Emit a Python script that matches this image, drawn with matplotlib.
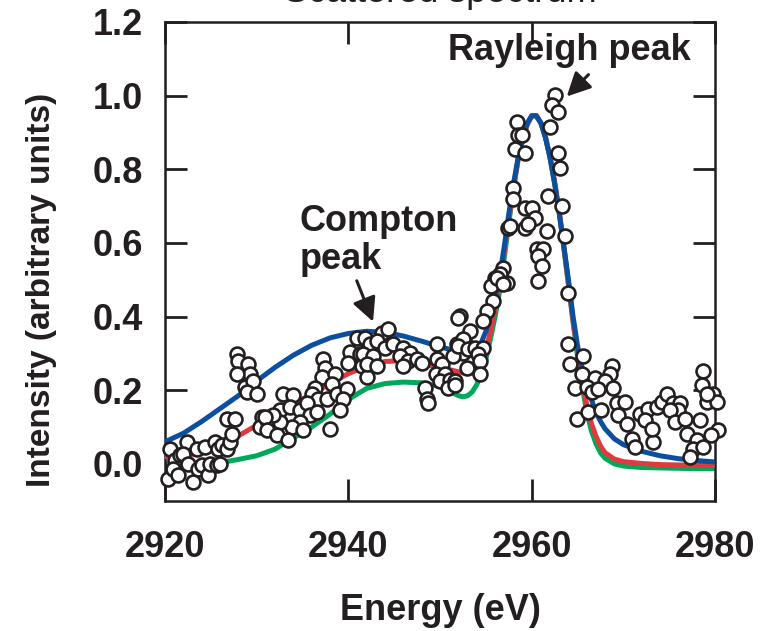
"""
Scattered spectrum: measured points with three model fits.
"""

import matplotlib
matplotlib.use("Agg")
import matplotlib.pyplot as plt

# ── fitted curves (shared energy grid) ──────────────────────────────────
energy_grid = [
    2920, 2922, 2924, 2926, 2928, 2930, 2932, 2934, 2936, 2938, 2940, 2942,
    2944, 2946, 2948, 2950, 2951, 2952, 2952.5, 2953, 2953.5, 2954, 2954.5,
    2955, 2955.5, 2956, 2956.5, 2957, 2957.5, 2958, 2958.5, 2959, 2959.5,
    2960, 2960.5, 2961, 2961.5, 2962, 2962.5, 2963, 2963.5, 2964, 2964.5,
    2965, 2965.5, 2966, 2966.5, 2967, 2967.5, 2968, 2969, 2970, 2972, 2974,
    2976, 2978, 2980,
]
blue_fit = [
    0.060, 0.083, 0.115, 0.150, 0.185, 0.225, 0.262, 0.295, 0.322, 0.342,
    0.354, 0.360, 0.357, 0.347, 0.333, 0.318, 0.311, 0.305, 0.302, 0.300,
    0.300, 0.310, 0.330, 0.360, 0.400, 0.450, 0.510, 0.590, 0.680, 0.760,
    0.830, 0.885, 0.925, 0.945, 0.945, 0.925, 0.885, 0.830, 0.760, 0.680,
    0.590, 0.500, 0.400, 0.320, 0.260, 0.215, 0.175, 0.140, 0.115, 0.095,
    0.068, 0.052, 0.034, 0.022, 0.014, 0.009, 0.005,
]
red_fit = [
    0.020, 0.022, 0.030, 0.048, 0.076, 0.105, 0.135, 0.162, 0.190, 0.218,
    0.245, 0.265, 0.278, 0.280, 0.272, 0.262, 0.256, 0.250, 0.247, 0.245,
    0.247, 0.255, 0.275, 0.310, 0.360, 0.420, 0.490, 0.575, 0.665, 0.750,
    0.825, 0.880, 0.922, 0.945, 0.945, 0.925, 0.887, 0.833, 0.765, 0.685,
    0.590, 0.490, 0.390, 0.300, 0.225, 0.160, 0.110, 0.075, 0.048, 0.030,
    0.013, 0.006, 0.001, -0.002, -0.003, -0.004, -0.004,
]
green_fit = [
    0.000, 0.000, 0.000, 0.003, 0.012, 0.022, 0.040, 0.070, 0.100, 0.135,
    0.175, 0.205, 0.218, 0.222, 0.220, 0.210, 0.198, 0.185, 0.182, 0.185,
    0.195, 0.215, 0.245, 0.285, 0.340, 0.400, 0.470, 0.560, 0.655, 0.745,
    0.825, 0.880, 0.920, 0.945, 0.945, 0.925, 0.885, 0.830, 0.760, 0.680,
    0.585, 0.485, 0.385, 0.290, 0.210, 0.140, 0.090, 0.055, 0.030, 0.015,
    0.000, -0.006, -0.010, -0.011, -0.012, -0.013, -0.013,
]

# ── measured points ─────────────────────────────────────────────────────
data_energy = [
    2920.5, 2920.3, 2921.1, 2921.6, 2922.4, 2922.0, 2920.9, 2921.4, 2922.5,
    2923.1, 2923.5, 2923.6, 2924.0, 2924.4, 2924.7, 2924.9, 2925.5, 2925.7,
    2926.0, 2925.8, 2926.2, 2926.8, 2927.1, 2927.3, 2926.8, 2927.6, 2927.9,
    2928.0, 2929.1, 2929.3, 2927.9, 2928.7, 2929.6, 2928.9, 2930.0, 2930.6,
    2930.4, 2931.1,
    2940.9, 2942.0, 2940.2, 2941.3, 2940.0, 2941.5, 2942.0, 2937.2, 2937.5,
    2937.1, 2938.5, 2938.2, 2936.4, 2936.0, 2936.7, 2937.7, 2938.8, 2939.9,
    2939.4, 2939.1, 2932.9, 2934.0, 2932.5, 2933.6, 2934.7, 2935.5, 2935.8,
    2934.7, 2933.9, 2932.5, 2931.8, 2930.9, 2931.1, 2932.2, 2933.4, 2935.1,
    2936.6, 2938.0,
    2952.2, 2943.7, 2944.3, 2941.8, 2942.4, 2943.1, 2941.6, 2942.7, 2944.0,
    2944.9, 2946.0, 2946.7, 2945.6, 2946.5, 2947.5, 2948.0, 2946.0, 2942.0,
    2943.1, 2949.7, 2949.7, 2950.2, 2949.5, 2950.5, 2950.0, 2951.1, 2950.9,
    2951.6, 2948.4, 2948.6, 2948.7, 2951.8, 2952.7, 2952.5, 2951.4,
    2957.4, 2959.3, 2952.0, 2956.9, 2956.5, 2957.3, 2956.0, 2955.5, 2955.8,
    2955.1, 2954.7, 2953.3, 2952.5, 2951.9, 2953.0, 2953.8, 2954.7, 2954.1,
    2954.4, 2954.4, 2952.9, 2951.6,
    2962.5, 2962.2, 2962.9, 2958.4, 2962.0, 2958.5, 2958.9, 2958.2, 2959.3,
    2962.9, 2963.1, 2958.0, 2957.9, 2961.8, 2963.3, 2959.3, 2960.0, 2960.4,
    2959.6, 2957.6, 2961.7, 2963.6, 2960.6, 2961.2, 2960.7, 2961.1, 2960.7,
    2956.2, 2956.9, 2963.9,
    2964.0, 2965.6, 2964.2, 2965.5, 2964.7, 2966.9, 2968.8, 2968.5, 2968.0,
    2966.0, 2966.6, 2967.2, 2968.9, 2964.9, 2966.1, 2967.5, 2969.3, 2970.2,
    2969.4, 2970.4, 2970.9, 2971.3, 2973.2, 2971.8, 2972.7, 2973.7, 2972.4,
    2973.1, 2974.2, 2974.8, 2975.4, 2976.2, 2976.0, 2975.1, 2975.6, 2976.7,
    2976.9, 2978.0, 2977.6, 2977.3, 2978.7, 2978.4, 2978.7, 2978.6, 2979.1,
    2979.8, 2980.2, 2980.3, 2979.5, 2979.1,
]
data_intensity = [
    0.041, -0.041, 0.011, 0.025, 0.060, 0.027, -0.014, -0.030, 0.000,
    -0.049, 0.041, -0.014, -0.003, 0.046, -0.030, 0.000, 0.060, -0.003,
    0.000, 0.041, 0.052, 0.041, 0.060, 0.082, 0.123, 0.123, 0.297,
    0.278, 0.270, 0.245, 0.245, 0.210, 0.224, 0.196, 0.191, 0.128,
    0.101, 0.120,
    0.341, 0.333, 0.305, 0.297, 0.273, 0.265, 0.237, 0.284, 0.259,
    0.237, 0.245, 0.218, 0.205, 0.191, 0.177, 0.177, 0.191, 0.202,
    0.175, 0.147, 0.191, 0.188, 0.147, 0.155, 0.147, 0.164, 0.134,
    0.115, 0.101, 0.115, 0.134, 0.128, 0.093, 0.079, 0.065, 0.093,
    0.142, 0.095,
    0.401, 0.355, 0.365, 0.341, 0.325, 0.333, 0.297, 0.292, 0.314,
    0.325, 0.314, 0.300, 0.292, 0.278, 0.286, 0.273, 0.265, 0.270,
    0.265, 0.325, 0.286, 0.270, 0.245, 0.245, 0.224, 0.229, 0.205,
    0.224, 0.205, 0.177, 0.164, 0.325, 0.327, 0.300, 0.292,
    0.641, 0.641, 0.395, 0.532, 0.515, 0.491, 0.504, 0.483, 0.442,
    0.415, 0.387, 0.360, 0.338, 0.319, 0.311, 0.314, 0.314, 0.297,
    0.278, 0.245, 0.259, 0.215,
    1.001, 0.974, 0.954, 0.927, 0.914, 0.892, 0.892, 0.856, 0.845,
    0.845, 0.802, 0.750, 0.720, 0.728, 0.701, 0.695, 0.695, 0.668,
    0.652, 0.646, 0.633, 0.619, 0.584, 0.584, 0.564, 0.537, 0.496,
    0.504, 0.488, 0.464,
    0.325, 0.292, 0.270, 0.245, 0.205, 0.232, 0.265, 0.245, 0.224,
    0.210, 0.196, 0.202, 0.205, 0.123, 0.142, 0.147, 0.164, 0.169,
    0.134, 0.109, 0.068, 0.046, 0.060, 0.136, 0.150, 0.155, 0.120,
    0.095, 0.169, 0.191, 0.164, 0.164, 0.147, 0.147, 0.115, 0.123,
    0.082, 0.065, 0.041, 0.019, 0.046, 0.120, 0.251, 0.215, 0.169,
    0.191, 0.169, 0.093, 0.079, 0.191,
]

x_ticks = [2920, 2940, 2960, 2980]
y_ticks = [0.0, 0.2, 0.4, 0.6, 0.8, 1.0, 1.2]

INK = "#231f20"
plt.rcParams["font.family"] = ["Liberation Sans", "DejaVu Sans"]
plt.rcParams["font.weight"] = "bold"

fig = plt.figure(figsize=(7.77, 6.31), dpi=100)
ax = fig.add_axes([0.2124, 0.2065, 0.708, 0.7589])

ax.plot(energy_grid, green_fit, color="#00a859", lw=3.6, zorder=2)
ax.plot(energy_grid, red_fit, color="#e03a3e", lw=3.6, zorder=3)
ax.plot(energy_grid, blue_fit, color="#0b4f9e", lw=3.6, zorder=4)
ax.plot(data_energy, data_intensity, "o", ms=10, mfc="white", mec=INK,
        mew=1.9, zorder=5, clip_on=False)

ax.set_xlim(2920, 2980)
ax.set_ylim(-0.1, 1.2)
ax.set_xticks(x_ticks)
ax.set_yticks(y_ticks)
ax.set_yticklabels([f"{v:.1f}" for v in y_ticks])
ax.tick_params(direction="in", length=16, width=2, color=INK, labelsize=26,
               labelcolor=INK, top=True, right=True)
ax.tick_params(axis="x", pad=21)
ax.tick_params(axis="y", pad=16)
for sp in ax.spines.values():
    sp.set_linewidth(1.8)
    sp.set_color(INK)

ax.set_title("Scattered spectrum", fontsize=26, color=INK, pad=14)
fig.text(440 / 777, 1 - 610 / 631, "Energy (eV)", ha="center", va="center",
         fontsize=26, color=INK)
fig.text(42 / 777, 1 - 290 / 631, "Intensity (arbitrary units)", rotation=90,
         ha="center", va="center", fontsize=24, color=INK)

# ── annotations ─────────────────────────────────────────────────────────
ax.text(2964.1, 1.122, "Rayleigh peak", ha="center", va="center",
        fontsize=26, color=INK)
ax.annotate("", xy=(2963.6, 0.992), xytext=(2966.4, 1.062),
            arrowprops=dict(arrowstyle="-|>", color=INK, lw=2.2,
                            mutation_scale=36))
ax.text(2934.7, 0.606, "Compton\npeak", ha="left", va="center",
        fontsize=26, color=INK, linespacing=1.1)
ax.annotate("", xy=(2942.8, 0.379), xytext=(2940.8, 0.504),
            arrowprops=dict(arrowstyle="-|>", color=INK, lw=2.2,
                            mutation_scale=36))

fig.savefig("out.png", dpi=100)
plt.close(fig)
